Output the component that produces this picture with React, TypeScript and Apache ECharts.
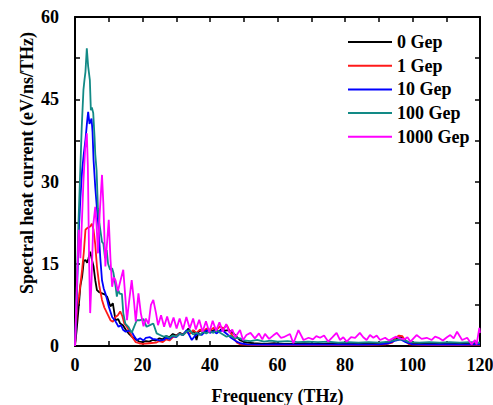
import React, { useEffect, useRef } from "react";
import * as echarts from "echarts";

// Spectral heat current vs frequency, [THz, eV/ns/THz] pairs per coupling strength
const seriesNames = ["0 Gep", "1 Gep", "10 Gep", "100 Gep", "1000 Gep"];
const seriesColors = ["#000000", "#ff1a1a", "#0000ff", "#128a86", "#ff00ff"];

const gep0: [number, number][] = [
  [0, 0], [0.5, 3], [1.1, 7.2], [1.6, 11], [2.1, 12.6], [2.6, 15.5], [3.1, 15.7], [3.6, 15.2],
  [4.0, 16], [4.5, 17.2], [5.0, 15.8], [5.5, 14.5], [6.0, 12], [6.5, 10.2], [7.2, 9.8], [8.0, 9.6],
  [8.8, 9.4], [9.5, 9], [10.5, 7.2], [11.2, 7.8], [12.0, 4.7], [12.8, 4.9], [13.4, 4.1], [14.2, 3.8],
  [15, 3.0], [16, 2.2], [17, 1.6], [18, 1.2], [19, 0.8], [20, 0.7], [21, 0.9], [22, 0.8], [23, 1.1],
  [24, 1.0], [25, 1.4], [26, 1.2], [27, 1.8], [28, 1.6], [29, 2.2], [30, 1.9], [31, 2.4], [32, 2.1],
  [33, 2.7], [33.6, 3.2], [34.5, 2.3], [35.3, 2.8], [36, 1.1], [36.6, 2.6], [37.5, 2.9], [38.5, 2.5],
  [39.5, 3.1], [40.5, 2.7], [41.5, 3.0], [42.5, 2.6], [43.5, 3.1], [44.5, 2.8], [45.5, 2.9],
  [46.8, 2.4], [48, 1.6], [49, 1.0], [50.9, 0.6], [53, 0.5], [56, 0.4], [59, 0.5], [62, 0.4],
  [65, 0.4], [68, 0.5], [71, 0.4], [74, 0.4], [77, 0.5], [80, 0.4], [83, 0.4], [86, 0.5], [89, 0.5],
  [92, 0.6], [94, 0.9], [95, 1.4], [96.5, 1.6], [97.5, 1.3], [98.5, 0.7], [100, 0.5], [103, 0.4],
  [106, 0.4], [109, 0.5], [112, 0.4], [115, 0.4], [118, 0.4], [120, 0.3],
];

const gep1: [number, number][] = [
  [0, 0], [0.6, 7], [1.2, 9], [2.1, 13.9], [2.6, 17], [3.1, 21.2], [3.6, 21.5], [4.5, 21.8],
  [5.0, 22.3], [5.5, 21.2], [6.0, 18.5], [6.5, 14.5], [7.2, 11], [8, 8.4], [8.7, 7], [9.5, 6],
  [10.5, 4.7], [11.2, 4.4], [12, 5.3], [12.7, 5.6], [13.4, 6.3], [14.0, 5.5], [14.6, 4.1],
  [15.4, 3.5], [16.2, 2.5], [17, 1.6], [18, 0.7], [19, 0.5], [20, 0.4], [22, 0.5], [24, 0.6],
  [25, 0.9], [26, 0.7], [27, 1.2], [28, 1.0], [29, 1.6], [30, 1.8], [31, 2.3], [32, 2.0], [33, 2.6],
  [34, 2.2], [35, 2.9], [36, 2.4], [37, 3.0], [38, 2.6], [39, 3.2], [40, 2.8], [41, 3.3], [42, 3.0],
  [43, 3.6], [44, 3.2], [45, 3.8], [46, 2.5], [47, 1.5], [48, 0.6], [49, 0.3], [52, 0.2], [56, 0.15],
  [60, 0.2], [64, 0.15], [68, 0.2], [72, 0.15], [76, 0.2], [80, 0.15], [84, 0.2], [88, 0.2],
  [92, 0.3], [94, 0.6], [95, 1.5], [96, 1.9], [97, 1.8], [98, 0.8], [99, 0.3], [102, 0.2],
  [106, 0.15], [110, 0.2], [114, 0.15], [118, 0.2], [120, 0.2],
];

const gep10: [number, number][] = [
  [0, 0], [0.5, 8], [1.1, 20.6], [1.6, 27], [2.1, 32], [2.6, 35], [3.1, 37.6], [3.6, 41],
  [3.9, 42.7], [4.3, 40.5], [4.9, 41.5], [5.2, 39], [5.5, 33.9], [6, 29], [6.5, 25], [7, 21.2],
  [7.5, 16], [8, 12], [8.5, 10.5], [9, 9.6], [9.5, 8.5], [10, 7.2], [11, 5.3], [12, 4.5],
  [12.9, 3.5], [13.6, 3.8], [14.3, 2.9], [15, 2.6], [16, 2.8], [16.8, 2.6], [17.5, 1.8],
  [18.3, 1.1], [19.3, 1.4], [20.3, 1.0], [21, 1.5], [22.2, 1.6], [23, 1.3], [24, 1.2], [25, 1.0],
  [26.2, 1.1], [27, 1.5], [28, 1.3], [29, 1.8], [30, 1.6], [31, 2.2], [32, 2.0], [33.1, 2.9],
  [34.6, 1.1], [35.5, 1.8], [36.5, 2.3], [37.5, 2.0], [39, 2.9], [40, 2.4], [41, 2.7], [42, 2.3],
  [43, 2.8], [44, 2.7], [45, 2.2], [46, 1.6], [47, 1.2], [47.9, 0.8], [49, 0.5], [51, 0.3],
  [55, 0.25], [60, 0.3], [65, 0.25], [70, 0.3], [75, 0.25], [80, 0.3], [85, 0.25], [90, 0.3],
  [93, 0.5], [95, 1.0], [96.5, 1.2], [98, 0.7], [100, 0.3], [105, 0.25], [110, 0.3], [115, 0.25],
  [120, 0.3],
];

const gep100: [number, number][] = [
  [0, 0], [0.5, 10], [1, 22], [1.5, 30.9], [2, 40], [2.5, 46.7], [2.8, 48.5], [3.1, 50],
  [3.5, 54.3], [3.9, 51], [4.4, 48.5], [4.7, 43], [5.0, 43.5], [5.4, 42.5], [5.8, 38], [6.0, 35],
  [6.4, 32], [6.8, 25], [7.2, 22.5], [7.5, 21.2], [8, 19], [8.4, 18.7], [8.9, 16], [9.4, 17.5],
  [9.8, 15], [10.4, 13.9], [11, 14.2], [11.4, 13.3], [12, 11], [12.4, 9], [12.8, 10.2],
  [13.3, 9.5], [13.9, 9.5], [14.3, 6], [14.9, 4.1], [15.8, 3.5], [16.8, 2.4], [17.5, 3.5],
  [18.3, 4.7], [19.3, 4.7], [20.3, 4.9], [21.2, 3.5], [22.2, 3.8], [23.2, 4.1], [24.2, 2.3],
  [25.2, 2.0], [26.2, 1.7], [27, 1.8], [28, 1.5], [29, 1.9], [30.1, 1.7], [31, 2.2], [32, 2.0],
  [33, 2.6], [34, 2.9], [35, 2.1], [36, 2.4], [37, 2.0], [38, 2.6], [38.9, 2.3], [40, 2.7],
  [41, 2.4], [41.9, 2.9], [43, 2.4], [44.9, 1.7], [46, 1.9], [47, 1.5], [48.9, 1.4], [50, 1.0],
  [52, 0.9], [54, 1.1], [56, 0.8], [58, 1.0], [60, 0.8], [63, 0.9], [66, 0.7], [69, 0.8],
  [72, 0.7], [75, 0.8], [78, 0.6], [81, 0.7], [84, 0.6], [87, 0.7], [90, 0.6], [93, 0.8],
  [95, 1.1], [97, 1.2], [99, 0.7], [102, 0.6], [105, 0.7], [108, 0.6], [111, 0.7], [114, 0.6],
  [117, 0.7], [120, 0.6],
];

const gep1000: [number, number][] = [
  [0, 0], [0.5, 10], [1.1, 21.2], [1.6, 16], [2.0, 22], [2.5, 30], [3.0, 36], [3.5, 38.8],
  [3.8, 33], [4.2, 15], [4.5, 6], [4.9, 12], [5.4, 22], [6.0, 25.4], [6.4, 22], [6.8, 16.9],
  [7.3, 24], [8.0, 31.2], [8.4, 26], [9.0, 14.5], [9.4, 18], [10, 23], [10.5, 16], [11, 10.8],
  [11.5, 12.5], [12, 12], [12.7, 10], [13.5, 12], [14.3, 13.9], [14.9, 9], [15.4, 4.7],
  [16.0, 8], [16.8, 12], [17.5, 8], [18.0, 4.5], [18.8, 9.6], [19.5, 6], [20.3, 3.6], [21, 5],
  [21.8, 4], [22.5, 7.5], [23.2, 8.4], [24, 6], [24.6, 3.8], [25.5, 5.6], [26.4, 3.5],
  [27.3, 5.4], [28.2, 3.4], [29.2, 5.2], [30.1, 3.2], [31.0, 5.0], [32, 3.0], [33, 5.3],
  [34, 3.2], [35, 5.0], [35.8, 3.0], [36.8, 4.8], [37.8, 2.6], [38.8, 4.5], [39.8, 2.5],
  [40.8, 4.6], [41.8, 2.8], [42.8, 4.3], [43.8, 2.6], [44.8, 4.0], [45.8, 2.4], [46.6, 3.0],
  [47.5, 1.6], [48.9, 2.9], [49.8, 1.1], [50.8, 2.0], [52, 2.4], [53.3, 1.4], [54.5, 2.3],
  [55.5, 1.2], [56.3, 2.2], [57.5, 1.3], [58.7, 1.9], [59.8, 2.4], [61, 1.5], [61.8, 1.6],
  [63.7, 2.2], [64.7, 0.5], [66.2, 2.9], [67.7, 1.1], [69.2, 1.5], [70.5, 1.2], [71.5, 1.8],
  [72.6, 1.5], [73.8, 1.9], [75, 0.8], [76.3, 1.6], [77.5, 2.4], [78.5, 1.1], [79.5, 1.6],
  [80.5, 0.8], [81.8, 1.6], [83, 1.5], [84.4, 2.4], [85.4, 1.6], [86.4, 1.1], [87.4, 2.0],
  [88.4, 1.5], [89.4, 1.9], [90.4, 1.1], [91.9, 1.5], [93, 1.0], [93.9, 1.3], [95, 1.7],
  [95.9, 1.5], [97.5, 1.2], [98.5, 1.6], [99.4, 0.8], [101.2, 2.0], [102.7, 1.3], [104.2, 1.5],
  [105.7, 1.1], [106.7, 1.7], [107.7, 1.5], [109, 1.0], [110.2, 1.6], [111.2, 2.0],
  [112.2, 1.4], [113.2, 2.6], [114.7, 1.1], [116.2, 1.5], [117.5, 0.3], [118.5, 1.1],
  [119, 0.3], [119.8, 3.3], [120, 2.4],
];

const seriesData = [gep0, gep1, gep10, gep100, gep1000];

const FONT = "'Liberation Serif', 'Times New Roman', serif";

export default function App() {
  const ref = useRef<HTMLDivElement>(null);

  useEffect(() => {
    if (!ref.current) return;
    const chart = echarts.init(ref.current, undefined, { renderer: "svg" });

    const frameAxis = {
      axisLine: { show: true, onZero: false, lineStyle: { color: "#000", width: 2 } },
      axisTick: { show: true, inside: true, length: 5, lineStyle: { color: "#000", width: 1.5 } },
      minorTick: { show: true, splitNumber: 2, length: 5, lineStyle: { color: "#000", width: 1.5 } },
      splitLine: { show: false },
    };
    const labelStyle = { color: "#000", fontFamily: FONT, fontWeight: "bold" as const, fontSize: 18 };

    chart.setOption({
      animation: false,
      backgroundColor: "#fff",
      grid: { left: 75, right: 13, top: 17, bottom: 59, outerBoundsMode: "none", containLabel: false },
      xAxis: [
        {
          type: "value", min: 0, max: 120, interval: 20, position: "bottom",
          ...frameAxis,
          axisLabel: { ...labelStyle, margin: 10 },
          name: "Frequency (THz)", nameLocation: "middle", nameGap: 41,
          nameTextStyle: { ...labelStyle },
        },
        {
          type: "value", min: 0, max: 120, interval: 20, position: "top",
          ...frameAxis, axisLabel: { show: false },
        },
      ],
      yAxis: [
        {
          type: "value", min: 0, max: 60, interval: 15, position: "left",
          ...frameAxis, axisLabel: { ...labelStyle, margin: 16 },
        },
        {
          type: "value", min: 0, max: 60, interval: 15, position: "right",
          ...frameAxis, axisLabel: { show: false },
        },
      ],
      legend: {
        orient: "vertical", left: 343, top: 28, itemWidth: 44, itemHeight: 18, itemGap: 5.7,
        icon: "path://M0,0 L44,0 L44,2 L0,2 Z",
        textStyle: { ...labelStyle, lineHeight: 18 },
        data: seriesNames,
      },
      graphic: [
        {
          type: "text", x: 27, y: 163, rotation: Math.PI / 2,
          style: {
            text: "Spectral heat current (eV/ns/THz)", fill: "#000",
            font: `bold 18px ${FONT}`, align: "center", verticalAlign: "middle",
          },
        },
      ],
      series: seriesNames.map((name, i) => ({
        name, type: "line", data: seriesData[i], symbol: "none", smooth: false,
        color: seriesColors[i], lineStyle: { color: seriesColors[i], width: 1.8 },
        z: 2 + i,
      })),
    });

    return () => chart.dispose();
  }, []);

  return <div ref={ref} style={{ width: 493, height: 405, position: "absolute", left: 0, top: 0 }} />;
}
